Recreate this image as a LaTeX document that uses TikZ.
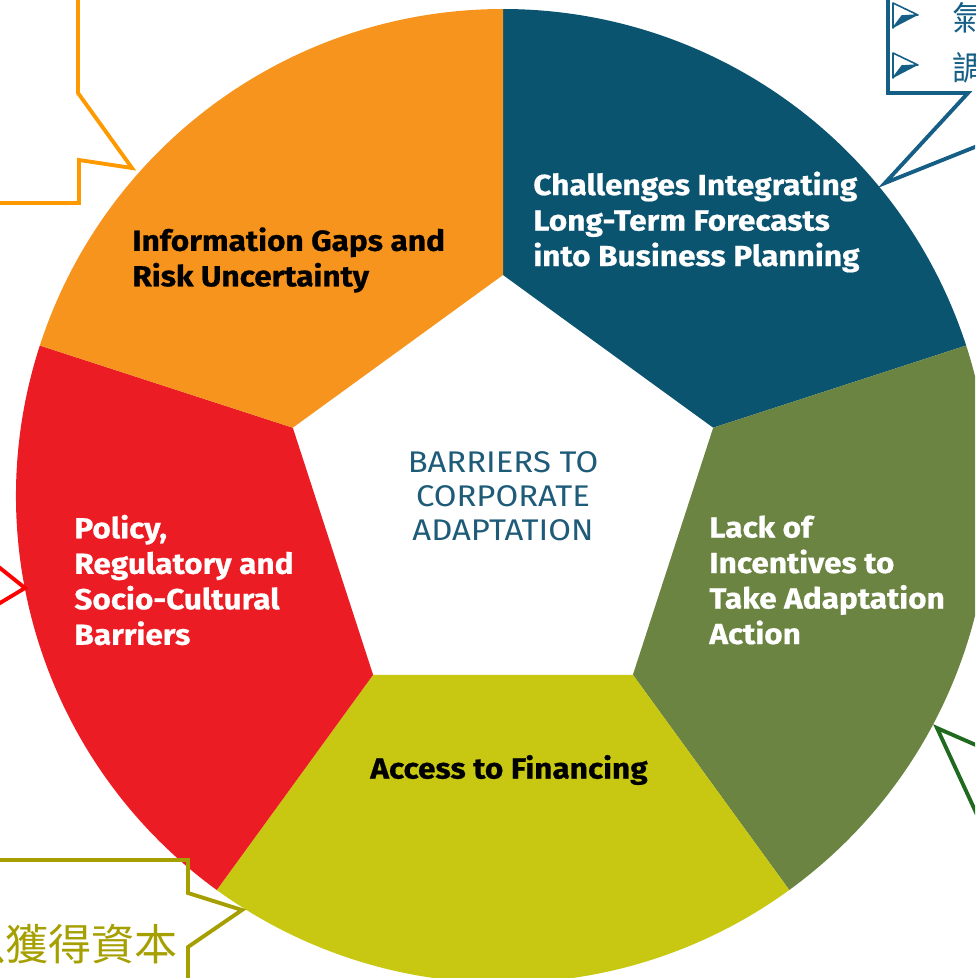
\documentclass[tikz,border=0pt]{standalone}
\usepackage{fontspec}
\setmainfont{Fira Sans}
\newfontfamily\labelfont{Fira Sans}[FakeStretch=1.09, BoldFeatures={FakeBold=0.6}]
\newfontfamily\hubfont{Fira Sans}[FakeStretch=1.1]
\newfontfamily\cjk{Noto Sans CJK TC}

\definecolor{wheelorange}{HTML}{F7941D}
\definecolor{wheelblue}{HTML}{0B546F}
\definecolor{wheelgreen}{HTML}{6B8442}
\definecolor{wheelyellow}{HTML}{C8C812}
\definecolor{wheelred}{HTML}{EC1C24}
\definecolor{hubtext}{HTML}{1E5B78}
\definecolor{noteorange}{HTML}{FF9900}
\definecolor{noteblue}{HTML}{155F86}
\definecolor{notered}{HTML}{FF0000}
\definecolor{notegreen}{HTML}{1F6A1F}
\definecolor{noteolive}{HTML}{A59F00}

\begin{document}
\begin{tikzpicture}
  [
    x=0.02cm, y=-0.02cm,
    seglabel/.style = {anchor=west, align=left, inner sep=0pt,
                       font=\labelfont\bfseries\fontsize{16.5}{20.2}\selectfont},
    hub/.style      = {align=center, inner sep=0pt, text=hubtext,
                       font=\hubfont\fontsize{17}{19.4}\selectfont},
    callout/.style  = {line width=2.2pt, line join=miter},
  ]

%Centre of the wheel, outer radius and radius of the inner pentagon
\def \cx{503}
\def \cy{496}
\def \R{487}
\def \r{221}

\useasboundingbox (0,0) rectangle (975,978);
\clip (0,0) rectangle (975,978);

%Five segments, clockwise from the top
\begin{scope}[shift={(\cx,\cy)}]
\foreach [count=\i] \c in {wheelblue,wheelgreen,wheelyellow,wheelred,wheelorange}
{
\pgfmathsetmacro{\a}{-90+72*(\i-1)}
\pgfmathsetmacro{\b}{\a+72}
\fill[\c] (\a:\r) -- (\a:\R) arc[start angle=\a, end angle=\b, radius=\R] -- (\b:\r) -- cycle;
}
\end{scope}

%Segment titles
\node[seglabel, text=white] (forecasts) at (533,222) {Challenges Integrating\\Long-Term Forecasts\\into Business Planning};
\node[seglabel, text=white] (incentives) at (709,580) {Lack of\\Incentives to\\Take Adaptation\\Action};
\node[seglabel, anchor=center] (financing) at (509,770) {Access to Financing};
\node[seglabel, text=white] (policy) at (74,580) {Policy,\\Regulatory and\\Socio-Cultural\\Barriers};
\node[seglabel] (infogaps) at (132,260) {Information Gaps and\\Risk Uncertainty};

%Title in the middle
\node[hub] (hub) at (503,496) {BARRIERS TO\\CORPORATE\\ADAPTATION};

%Callout outlines running off the page edges
\draw[callout, noteorange] (78,-10) -- (78,93) -- (132,168) -- (79,160) -- (79,203) -- (-10,203);
\draw[callout, noteblue] (888,-10) -- (888,93) -- (968,93) -- (885,183) -- (985,143);
\draw[callout, notered] (-10,560) -- (25,588) -- (-10,609);
\draw[callout, notegreen] (985,749) -- (937,728) -- (985,832);
\draw[callout, noteolive] (-10,860) -- (188,860) -- (188,893) -- (242,910) -- (188,947) -- (188,990);

%Bulleted lines in the top right callout
\foreach [count=\i] \j in {氣,調}
{
\pgfmathsetmacro{\yb}{50*(\i-1)}
\fill[noteblue] (893,{28+\yb}) -- (918,{15+\yb}) -- (902,{16+\yb}) -- cycle;
\draw[noteblue, line width=0.9pt, line join=round] (893,{3+\yb}) -- (918,{15+\yb}) -- (902,{16+\yb}) -- (893,{28+\yb}) -- cycle;
\node[anchor=west, text=noteblue, font=\cjk\fontsize{19}{19}\selectfont, inner sep=0pt] (line\i) at (952,{18+\yb}) {\j};
}

%Text in the bottom left callout
\node[anchor=east, inner sep=0pt, text=noteolive, font=\cjk\fontsize{24.5}{24.5}\selectfont] (capital) at (178,944) {以獲得資本};
\end{tikzpicture}
\end{document}
